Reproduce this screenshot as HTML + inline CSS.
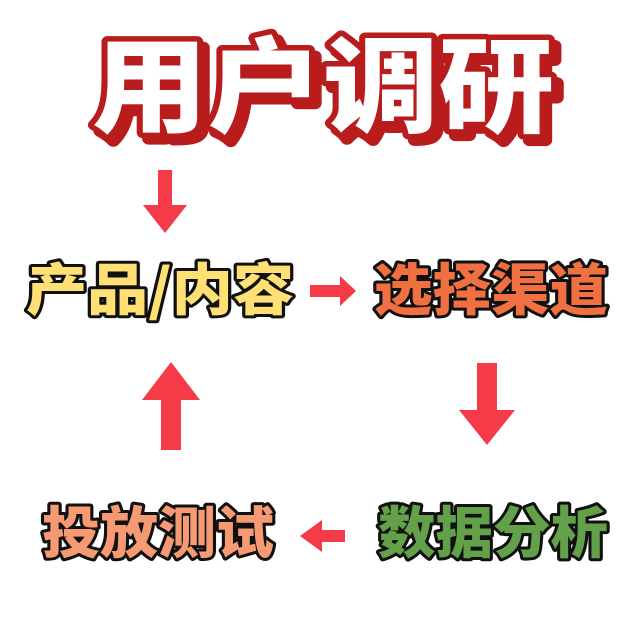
<!DOCTYPE html>
<html><head><meta charset="utf-8"><style>
html,body{margin:0;padding:0;background:#fff;}
svg{display:block}
text{font-family:"Noto Sans CJK SC","WenQuanYi Zen Hei",sans-serif;font-weight:900;paint-order:stroke fill;stroke-linejoin:round}
</style></head><body>
<svg width="640" height="640" viewBox="0 0 640 640">
<rect width="640" height="640" fill="#fff"/>
<g font-size="104" text-anchor="middle">
<text x="329" y="130" fill="#b81c1c" stroke="#b81c1c" stroke-width="12" textLength="462" lengthAdjust="spacingAndGlyphs">用户调研</text>
<text x="323" y="124" fill="#fff" stroke="#b81c1c" stroke-width="11" textLength="462" lengthAdjust="spacingAndGlyphs">用户调研</text>
</g>
<g font-size="56" stroke="#111" stroke-width="6">
<text x="26" y="310" fill="#ffe074" textLength="268" lengthAdjust="spacingAndGlyphs">产品/内容</text>
<text x="374" y="310" fill="#f07042" textLength="234" lengthAdjust="spacingAndGlyphs">选择渠道</text>
<text x="42" y="553" fill="#f59a72" textLength="232" lengthAdjust="spacingAndGlyphs">投放测试</text>
<text x="378" y="553" fill="#62a04a" textLength="230" lengthAdjust="spacingAndGlyphs">数据分析</text>
</g>
<g fill="#f53a48">
<polygon points="158,170 172,170 172,205 187,205 165,233 143,205 158,205"/>
<polygon points="310,285 340,285 340,276 356,291 340,306 340,297 310,297"/>
<polygon points="477,363 497,363 497,410 515,410 487,445 459,410 477,410"/>
<polygon points="161,450 181,450 181,400 200,400 171,362 142,400 161,400"/>
<polygon points="345,530 322,530 322,520 300,536 322,552 322,542 345,542"/>
</g>
</svg>
</body></html>
